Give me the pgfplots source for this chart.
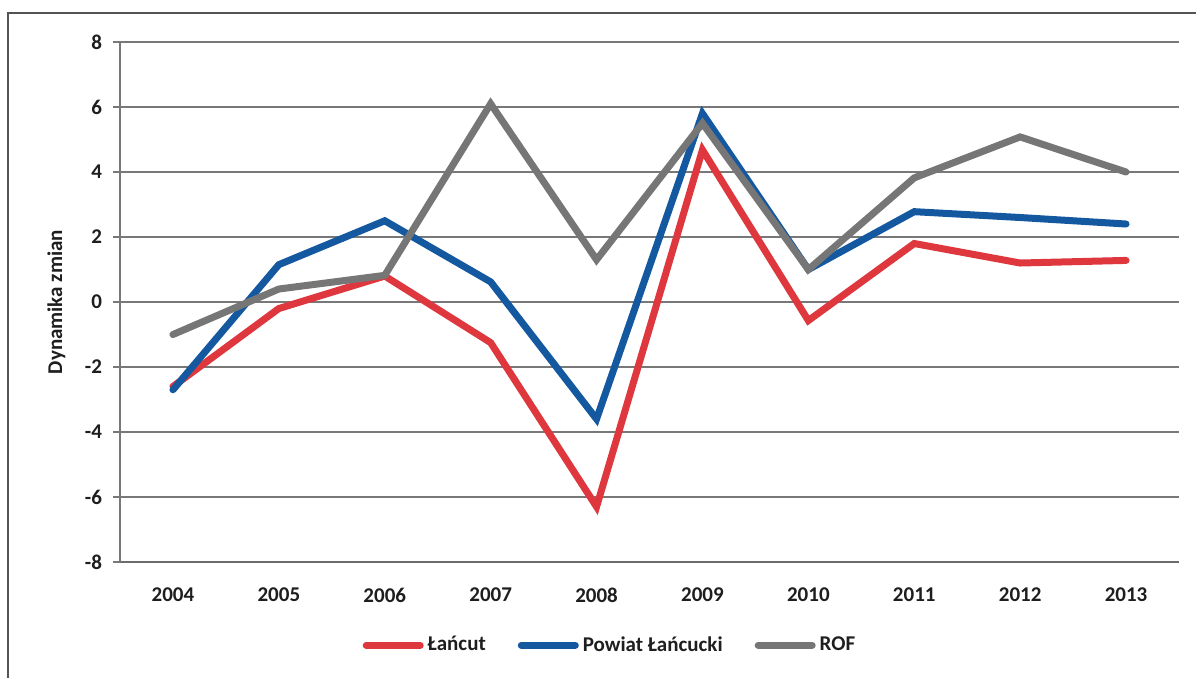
\documentclass[border=0pt]{standalone}
\usepackage{pgfplots}
\pgfplotsset{compat=1.18}
\usepackage{fontspec}
\setmainfont{Carlito}

\definecolor{cRed}{RGB}{222,56,62}
\definecolor{cBlue}{RGB}{20,88,160}
\definecolor{cGray}{RGB}{118,118,118}
\definecolor{cGrid}{RGB}{120,120,120}
\definecolor{cText}{RGB}{30,30,30}

\pgfplotstableread{
x lancut powiat rof
0 -2.6 -2.7 -1.0
1 -0.2  1.15 0.4
2  0.8  2.5  0.82
3 -1.25 0.62 6.1
4 -6.3 -3.6  1.3
5  4.68 5.8  5.5
6 -0.57 1.0  1.0
7  1.8  2.78 3.82
8  1.2  2.6  5.08
9  1.28 2.4  4.0
}\datatable

\begin{document}
\begin{tikzpicture}[font=\bfseries\fontsize{10.5pt}{12.5pt}\selectfont, text=cText]
\begin{axis}[
  scale only axis,
  width=529.5pt, height=260pt,
  xmin=-0.5, xmax=9.5,
  ymin=-8, ymax=8,
  ytick={-8,-6,...,8},
  xtick={0,...,9},
  xticklabels={2004,2005,2006,2007,2008,2009,2010,2011,2012,2013},
  axis x line*=bottom, axis y line*=left,
  axis line style={draw=cGrid, line width=0.7pt, -},
  x axis line style={draw=cGrid!90!black, line width=1pt},
  ymajorgrids,
  grid style={draw=cGrid, line width=0.7pt},
  tick align=outside,
  ytick style={draw=cGrid, line width=0.7pt},
  major tick length=3.5pt,
  xtick style={draw=none},
  yticklabel style={xshift=-2pt},
  xticklabel style={yshift=-6pt},
  /pgf/number format/assume math mode=true,
  ylabel={Dynamika zmian},
  ylabel style={at={(axis description cs:-0.060,0.5)}, anchor=center, rotate=0},
  legend columns=3,
  legend style={draw=none, fill=none, at={(axis description cs:0.4636,-0.16)}, anchor=center,
    /tikz/every even column/.append style={column sep=14pt}},
  legend cell align=left,
  legend image code/.code={\draw[#1, line cap=round] (0pt,0pt) -- (27pt,0pt);},
  every axis plot/.append style={line width=3.5pt, line join=miter, line cap=round, mark=none},
]
\addplot[cRed] table[x=x, y=lancut] {\datatable};
\addlegendentry{Łańcut}
\addplot[cBlue] table[x=x, y=powiat] {\datatable};
\addlegendentry{Powiat Łańcucki}
\addplot[cGray] table[x=x, y=rof] {\datatable};
\addlegendentry{ROF}
\end{axis}
\path[use as bounding box] ([shift={(-60pt,-57.5pt)}]current axis.south west) rectangle ([shift={(8.5pt,21pt)}]current axis.north east);
\draw[cGrid!70!black, line width=0.7pt] ([shift={(-56pt,-80pt)}]current axis.south west) -- ([shift={(-56pt,14.5pt)}]current axis.north west) -- ([shift={(40pt,14.5pt)}]current axis.north east);
\end{tikzpicture}
\end{document}
